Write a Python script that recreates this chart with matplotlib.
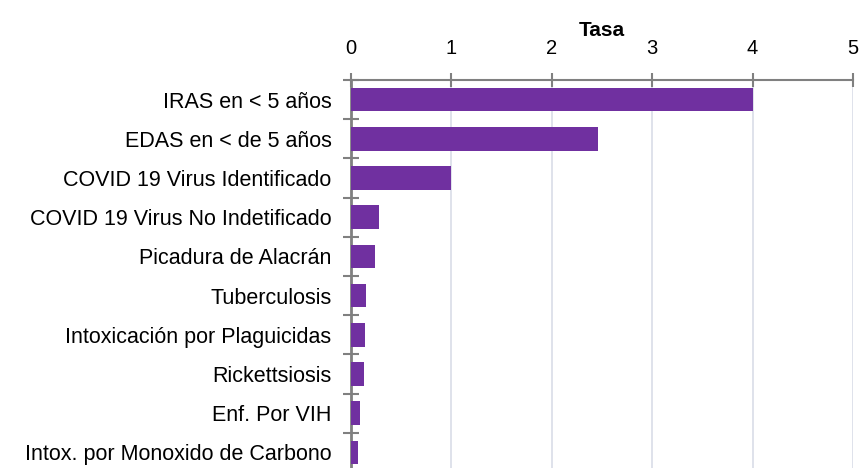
import numpy as np
import matplotlib.pyplot as plt

# Datos (tasa por categoría)
categorias = ["IRAS en < 5 años", "EDAS en < de 5 años", "COVID 19 Virus Identificado",
              "COVID 19 Virus No Indetificado", "Picadura de Alacrán", "Tuberculosis",
              "Intoxicación por Plaguicidas", "Rickettsiosis", "Enf. Por VIH",
              "Intox. por Monoxido de Carbono"]
tasa = [4.0, 2.46, 1.0, 0.28, 0.24, 0.15, 0.14, 0.13, 0.09, 0.07]
xticks = [0, 1, 2, 3, 4, 5]

plt.rcParams['font.family'] = ['Liberation Sans', 'DejaVu Sans']

fig = plt.figure(figsize=(8.61, 4.68), dpi=100)
ax = fig.add_axes([351/861, -4/468, 502/861, 392/468])

y = np.arange(len(categorias))
ax.barh(y, tasa, height=0.6, color='#7030A0', zorder=3)

ax.set_xlim(0, 5)
ax.set_ylim(len(categorias) - 0.5, -0.5)

# eje x arriba
ax.xaxis.tick_top()
ax.xaxis.set_label_position('top')
ax.set_xticks(xticks)
ax.set_xticklabels([str(v) for v in xticks])
ax.tick_params(axis='x', direction='inout', length=10, width=1.5, color='#808080',
               pad=11, labelsize=14.5)
ax.set_xlabel('Tasa', fontsize=15, fontweight='bold', labelpad=2)

ax.set_yticks(y)
ax.set_yticklabels(categorias)
ax.set_yticks(np.arange(len(categorias) + 1) - 0.5, minor=True)
ax.tick_params(axis='y', which='major', length=0, pad=14, labelsize=15.5)
ax.tick_params(axis='y', which='minor', direction='inout', length=12, width=1.5, color='#808080')

ax.grid(axis='x', color='#D9DDE8', linewidth=1.2, zorder=0)
for s in ['right', 'bottom']:
    ax.spines[s].set_visible(False)
ax.spines['top'].set_color('#808080')
ax.spines['top'].set_linewidth(1.5)
ax.spines['left'].set_color('#808080')
ax.spines['left'].set_linewidth(2)

fig.savefig('out.png', dpi=100)
